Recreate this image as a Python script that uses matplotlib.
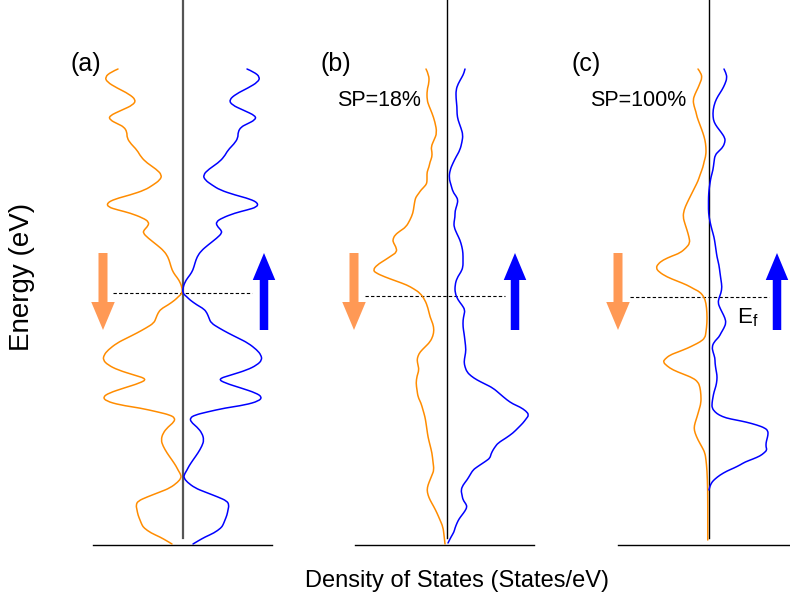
import matplotlib.pyplot as plt
from matplotlib.path import Path
from matplotlib.patches import PathPatch

plt.rcParams['font.family'] = ['Liberation Sans', 'DejaVu Sans']
plt.rcParams['mathtext.default'] = 'regular'

# energies relative to E_f, DOS magnitude for each spin channel

# (a) non-magnetic: both channels share the same DOS
E_a = [8.96, 8.84, 8.64, 8.44, 8.20, 7.96, 7.72, 7.52, 7.32, 7.08, 6.92, 6.76, 6.64, 6.44, 6.20,
       5.96, 5.72, 5.44, 5.20, 4.96, 4.72, 4.52, 4.32, 4.12, 3.92, 3.76, 3.60, 3.44, 3.32, 3.20,
       3.00, 2.84, 2.68, 2.52, 2.40, 2.20, 1.92, 1.68, 1.44, 1.20, 0.92, 0.72, 0.52, 0.24, 0.00,
       -0.16, -0.28, -0.48, -0.64, -0.80, -1.00, -1.20, -1.40, -1.60, -1.80, -2.00, -2.28, -2.48, -2.68, -2.88,
       -3.08, -3.28, -3.44, -3.60, -3.80, -4.00, -4.16, -4.32, -4.48, -4.60, -4.76, -4.88, -5.00, -5.16, -5.36,
       -5.60, -5.88, -6.12, -6.40, -6.68, -6.92, -7.08, -7.28, -7.40, -7.56, -7.80, -7.96, -8.16, -8.32, -8.48,
       -8.68, -8.88, -9.08, -9.28, -9.40, -9.60, -9.76, -9.92, -10.04]
dos_a = [2.58, 2.86, 3.10, 3.02, 2.62, 2.14, 1.86, 1.98, 2.42, 2.94, 2.90, 2.58, 2.34, 2.22, 2.22,
         2.06, 1.82, 1.66, 1.42, 1.06, 0.82, 0.90, 1.18, 1.50, 2.10, 2.70, 3.02, 2.98, 2.58, 2.10,
         1.58, 1.34, 1.38, 1.54, 1.58, 1.38, 1.02, 0.74, 0.58, 0.50, 0.42, 0.30, 0.14, 0.02, 0.00,
         0.18, 0.30, 0.58, 0.86, 0.98, 1.06, 1.14, 1.46, 1.82, 2.22, 2.62, 2.98, 3.14, 3.18, 2.98,
         2.58, 1.94, 1.42, 1.70, 2.34, 2.94, 3.18, 3.06, 2.50, 1.70, 0.98, 0.50, 0.30, 0.34, 0.58,
         0.78, 0.86, 0.78, 0.62, 0.42, 0.26, 0.18, 0.06, 0.06, 0.18, 0.50, 0.90, 1.42, 1.78, 1.86,
         1.82, 1.78, 1.70, 1.62, 1.54, 1.26, 0.90, 0.62, 0.42]

# (b) SP = 18 %
E_b_dn = [9.08, 8.84, 8.52, 8.24, 7.84, 7.60, 7.32, 6.96, 6.52, 6.24, 5.96, 5.76, 5.56, 5.36, 5.16,
          4.96, 4.76, 4.56, 4.44, 4.24, 4.12, 3.96, 3.84, 3.60, 3.32, 3.04, 2.76, 2.60, 2.44, 2.28,
          2.16, 1.96, 1.76, 1.60, 1.44, 1.24, 1.04, 0.92, 0.76, 0.60, 0.44, 0.28, 0.12, -0.16, -0.48,
          -0.84, -1.12, -1.36, -1.60, -1.84, -2.04, -2.24, -2.40, -2.56, -2.76, -2.96, -3.20, -3.48, -3.76, -4.04,
          -4.28, -4.56, -4.84, -5.08, -5.36, -5.64, -5.96, -6.28, -6.64, -6.96, -7.16, -7.36, -7.56, -7.76, -7.96,
          -8.16, -8.44, -8.68, -8.96, -9.24, -9.56, -9.92]
dos_b_dn = [0.84, 0.72, 0.72, 0.80, 0.80, 0.72, 0.60, 0.48, 0.40, 0.52, 0.64, 0.60, 0.60, 0.68, 0.72,
            0.80, 0.80, 0.80, 0.84, 1.04, 1.12, 1.24, 1.28, 1.32, 1.36, 1.48, 1.64, 1.88, 2.08, 2.16,
            2.16, 2.04, 2.00, 2.24, 2.48, 2.80, 2.96, 2.84, 2.48, 2.04, 1.60, 1.32, 1.08, 0.88, 0.76,
            0.68, 0.56, 0.52, 0.56, 0.68, 0.88, 1.08, 1.16, 1.20, 1.16, 1.12, 1.20, 1.24, 1.20, 1.16,
            1.04, 0.96, 0.88, 0.84, 0.80, 0.76, 0.68, 0.60, 0.56, 0.52, 0.60, 0.68, 0.76, 0.80, 0.76,
            0.68, 0.52, 0.40, 0.28, 0.16, 0.12, 0.08]
E_b_up = [9.08, 8.92, 8.76, 8.48, 8.24, 7.92, 7.56, 7.28, 7.04, 6.72, 6.44, 6.16, 5.84, 5.56, 5.32,
          5.04, 4.72, 4.44, 4.16, 4.00, 3.84, 3.64, 3.40, 3.16, 2.96, 2.76, 2.48, 2.24, 1.96, 1.72,
          1.44, 1.16, 0.96, 0.72, 0.44, 0.12, -0.16, -0.36, -0.56, -0.76, -0.96, -1.24, -1.48, -1.80, -2.16,
          -2.40, -2.64, -2.84, -3.04, -3.20, -3.36, -3.52, -3.68, -3.92, -4.16, -4.32, -4.44, -4.60, -4.76, -4.92,
          -5.08, -5.28, -5.48, -5.68, -5.88, -6.04, -6.16, -6.32, -6.48, -6.60, -6.68, -6.84, -6.96, -7.16, -7.36,
          -7.56, -7.76, -7.96, -8.16, -8.32, -8.44, -8.60, -8.76, -8.92, -9.08, -9.28, -9.44, -9.64, -9.88]
dos_b_up = [0.72, 0.68, 0.60, 0.44, 0.36, 0.36, 0.40, 0.40, 0.44, 0.56, 0.64, 0.60, 0.52, 0.36, 0.24,
            0.12, 0.08, 0.16, 0.24, 0.36, 0.44, 0.40, 0.32, 0.32, 0.28, 0.28, 0.40, 0.52, 0.60, 0.64,
            0.64, 0.64, 0.56, 0.40, 0.32, 0.32, 0.44, 0.60, 0.72, 0.68, 0.64, 0.64, 0.68, 0.72, 0.76,
            0.72, 0.68, 0.72, 0.80, 0.96, 1.20, 1.52, 1.84, 2.12, 2.40, 2.64, 2.92, 3.16, 3.28, 3.16,
            3.04, 2.84, 2.64, 2.36, 2.04, 1.92, 1.84, 1.76, 1.72, 1.56, 1.44, 1.20, 1.04, 0.92, 0.80,
            0.64, 0.56, 0.60, 0.64, 0.76, 0.80, 0.72, 0.60, 0.48, 0.40, 0.32, 0.28, 0.16, 0.04]

# (c) SP = 100 %
E_c_dn = [9.12, 8.96, 8.76, 8.56, 8.36, 8.12, 7.88, 7.64, 7.40, 7.20, 6.88, 6.56, 6.28, 6.00, 5.68,
          5.40, 5.20, 4.88, 4.64, 4.40, 4.08, 3.76, 3.48, 3.20, 2.92, 2.68, 2.40, 2.16, 1.96, 1.76,
          1.64, 1.48, 1.32, 1.16, 1.00, 0.80, 0.64, 0.48, 0.32, 0.20, 0.00, -0.24, -0.64, -1.04, -1.40,
          -1.64, -1.80, -1.92, -2.04, -2.20, -2.32, -2.48, -2.60, -2.76, -2.92, -3.08, -3.24, -3.40, -3.60, -3.92,
          -4.24, -4.52, -4.80, -5.04, -5.24, -5.44, -5.72, -6.00, -6.24, -6.52, -6.92, -7.72, -8.92, -9.72]
dos_c_dn = [0.42, 0.30, 0.26, 0.34, 0.42, 0.54, 0.62, 0.58, 0.50, 0.46, 0.34, 0.22, 0.14, 0.10, 0.10,
            0.18, 0.22, 0.34, 0.42, 0.54, 0.70, 0.86, 0.98, 1.02, 0.94, 0.86, 0.78, 0.74, 0.90, 1.14,
            1.46, 1.82, 2.02, 2.10, 1.98, 1.66, 1.26, 0.86, 0.58, 0.34, 0.18, 0.10, 0.06, 0.06, 0.10,
            0.14, 0.34, 0.58, 0.82, 1.22, 1.54, 1.74, 1.82, 1.66, 1.42, 1.02, 0.62, 0.42, 0.34, 0.30,
            0.30, 0.38, 0.46, 0.54, 0.58, 0.54, 0.42, 0.26, 0.14, 0.10, 0.06, 0.03, 0.03, 0.03]
E_c_up = [9.12, 8.96, 8.76, 8.52, 8.28, 8.04, 7.80, 7.48, 7.20, 7.00, 6.80, 6.60, 6.36, 6.20, 6.00,
          5.84, 5.68, 5.40, 5.08, 4.80, 4.56, 4.28, 4.00, 3.68, 3.36, 3.00, 2.68, 2.40, 2.16, 1.88,
          1.60, 1.28, 0.96, 0.68, 0.40, 0.16, -0.04, -0.24, -0.44, -0.60, -0.84, -1.04, -1.24, -1.44, -1.60,
          -1.80, -2.00, -2.20, -2.44, -2.64, -2.92, -3.12, -3.32, -3.56, -3.80, -4.00, -4.24, -4.44, -4.60, -4.72,
          -4.84, -4.92, -5.00, -5.12, -5.24, -5.36, -5.52, -5.68, -5.84, -6.00, -6.12, -6.24, -6.36, -6.48, -6.60,
          -6.72, -6.84, -6.96, -7.12, -7.28, -7.40, -7.56, -7.72]
dos_c_up = [0.62, 0.70, 0.74, 0.66, 0.54, 0.38, 0.26, 0.18, 0.18, 0.22, 0.34, 0.50, 0.66, 0.66, 0.58,
            0.42, 0.26, 0.22, 0.18, 0.10, 0.06, 0.02, 0.00, 0.00, 0.00, 0.06, 0.14, 0.22, 0.26, 0.30,
            0.34, 0.42, 0.46, 0.50, 0.54, 0.50, 0.42, 0.38, 0.46, 0.54, 0.66, 0.70, 0.62, 0.50, 0.42,
            0.22, 0.14, 0.18, 0.26, 0.26, 0.30, 0.34, 0.34, 0.30, 0.22, 0.18, 0.14, 0.14, 0.26, 0.42,
            0.70, 1.10, 1.50, 1.94, 2.26, 2.38, 2.38, 2.34, 2.30, 2.30, 2.34, 2.22, 2.06, 1.78, 1.46,
            1.26, 1.02, 0.74, 0.46, 0.26, 0.14, 0.06, 0.02]

panel_labels = ['(a)', '(b)', '(c)']
sp_labels = ['', 'SP=18%', 'SP=100%']

ORANGE = '#ff8c00'
BLUE = '#0000ff'
ARROW_ORANGE = '#ff9955'

W, H = 790, 606
PX = 25.0  # pixels per unit on both axes
BASE = 545
fig = plt.figure(figsize=(W / 100, H / 100), dpi=100)


def smooth_curve(ax, xs, ys, color):
    # quadratic bezier through the midpoints, so the trace has no kinks
    pts = list(zip(xs, ys))
    verts = [pts[0]]
    codes = [Path.MOVETO]
    for i in range(1, len(pts) - 1):
        mid = ((pts[i][0] + pts[i + 1][0]) / 2, (pts[i][1] + pts[i + 1][1]) / 2)
        verts += [pts[i], mid]
        codes += [Path.CURVE3, Path.CURVE3]
    verts.append(pts[-1])
    codes.append(Path.LINETO)
    ax.add_patch(PathPatch(Path(verts, codes), fill=False, edgecolor=color,
                           lw=1.1, joinstyle='round', capstyle='round', zorder=3))


# pixel layout: left/right of the base line, zero-DOS axis, Fermi level row,
# axis colour, dashed E_f extent, arrow columns
layout = [
    dict(left=93, right=272, center=182.5, fermi=293, vcol='#555555', vlw=1.6,
         ef=(113, 252), arr=(103, 264)),
    dict(left=355, right=534, center=447, fermi=296, vcol='black', vlw=1.0,
         ef=(365, 505), arr=(354, 515)),
    dict(left=618, right=790, center=708.5, fermi=297, vcol='black', vlw=1.0,
         ef=(630, 769), arr=(618, 777)),
]
curves = [
    (E_a, dos_a, E_a, dos_a),
    (E_b_dn, dos_b_dn, E_b_up, dos_b_up),
    (E_c_dn, dos_c_dn, E_c_up, dos_c_up),
]

for lay, (e_dn, d_dn, e_up, d_up) in zip(layout, curves):
    l, r, c, f = lay['left'], lay['right'], lay['center'], lay['fermi']
    ax = fig.add_axes([l / W, (H - BASE) / H, (r - l) / W, BASE / H])
    ax.set_xlim((l - c) / PX, (r - c) / PX)
    ax.set_ylim((f - BASE) / PX, f / PX)
    for s in ['top', 'right', 'left']:
        ax.spines[s].set_visible(False)
    ax.spines['bottom'].set_linewidth(1.0)
    ax.set_xticks([])
    ax.set_yticks([])
    ax.patch.set_alpha(0)

    smooth_curve(ax, [-d for d in d_dn], e_dn, ORANGE)
    smooth_curve(ax, d_up, e_up, BLUE)
    ax.axvline(0, ymin=7 / BASE, ymax=1, color=lay['vcol'], lw=lay['vlw'], zorder=2)

    x0, x1 = lay['ef']
    ax.hlines(0, (x0 - c) / PX, (x1 - c) / PX, colors='black', lw=0.8,
              linestyles=(0, (3, 2)), zorder=1)

    top = (f - 253) / PX
    bot = (f - 330) / PX
    xa_dn = (lay['arr'][0] - c) / PX
    xa_up = (lay['arr'][1] - c) / PX
    ax.arrow(xa_dn, top, 0, bot - top, width=0.36, head_width=0.94, head_length=1.12,
             length_includes_head=True, color=ARROW_ORANGE, lw=0, clip_on=False)
    ax.arrow(xa_up, bot, 0, top - bot, width=0.34, head_width=0.9, head_length=1.08,
             length_includes_head=True, color=BLUE, lw=0, clip_on=False)

for lab, x in zip(panel_labels, [86, 336, 586]):
    fig.text(x / W, 1 - 64 / H, lab, fontsize=18, ha='center', va='center')
for lab, x in zip(sp_labels, [0, 379, 638]):
    if lab:
        fig.text(x / W, 1 - 101 / H, lab, fontsize=15.5, ha='center', va='center')

fig.text(748 / W, 1 - 318 / H, r'E$_f$', fontsize=16, ha='center', va='center')
fig.text(22 / W, 1 - 277 / H, 'Energy (eV)', fontsize=20, rotation=90,
         ha='center', va='center')
fig.text(457 / W, 1 - 581 / H, 'Density of States (States/eV)', fontsize=17,
         ha='center', va='center')

fig.savefig('out.png', dpi=100)
